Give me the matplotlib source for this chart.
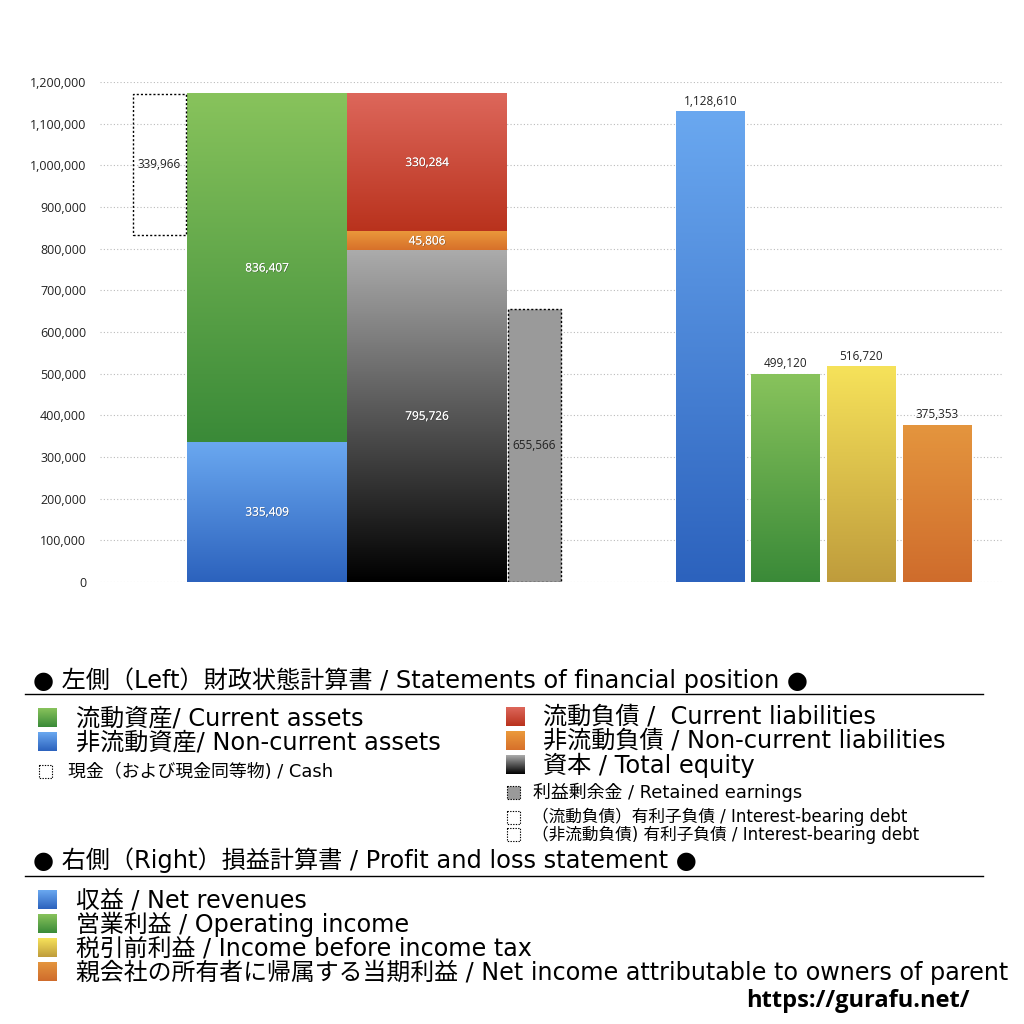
import matplotlib.pyplot as plt
import matplotlib.patheffects as pe
import numpy as np
from matplotlib.colors import LinearSegmentedColormap
from matplotlib.patches import Rectangle

plt.rcParams['font.family'] = ['Open Sans', 'Noto Sans CJK JP', 'DejaVu Sans']
LEG_FONT = ['DejaVu Sans', 'Noto Sans CJK JP']

# Balance sheet (left)
cash = 339966
current_assets = 836407
noncurrent_assets = 335409
current_liab = 330284
noncurrent_liab = 45806
equity = 795726
retained = 655566

# Profit and loss (right)
pl_values = [1128610, 499120, 516720, 375353]

yticks = list(range(0, 1200001, 100000))

# gradient colours (top, bottom)
grad = {
    "green": ("#88c35c", "#3a8a38"),
    "blue": ("#6aa8f0", "#2c62bd"),
    "red": ("#dd675b", "#b9321d"),
    "orange": ("#eb9a3c", "#d7702a"),
    "equity": ("#ababab", "#000000"),
    "yellow": ("#f6e25a", "#bf9c3c"),
    "orange2": ("#e4953e", "#cf6c2c"),
}
pl_colors = ["blue", "green", "yellow", "orange2"]

fig = plt.figure(figsize=(10.24, 10.24), dpi=100)
ax = fig.add_axes([100 / 1024, (1024 - 582) / 1024, 903 / 1024, 500 / 1024])


def grad_fill(a, x0, x1, y0, y1, key, z=2):
    cmap = LinearSegmentedColormap.from_list(key, [grad[key][1], grad[key][0]])
    g = np.linspace(0, 1, 256).reshape(-1, 1)
    a.imshow(g, extent=[x0, x1, y0, y1], origin="lower", aspect="auto",
             cmap=cmap, zorder=z, interpolation="bilinear")


shadow = [pe.withSimplePatchShadow(offset=(0.5, -0.5), shadow_rgbFace="#333333", alpha=0.5), pe.Normal()]


def seg_label(x, y, v, color="white"):
    ax.text(x, y, f"{v:,}", ha="center", va="center", fontsize=8.5, color=color,
            path_effects=shadow if color == "white" else None, zorder=5)


ax.set_xlim(100, 1003)
ax.set_ylim(0, 1200000)

total_assets = current_assets + noncurrent_assets

# assets stack
ax_x0, ax_x1 = 187, 347
grad_fill(ax, ax_x0, ax_x1, 0, noncurrent_assets, "blue")
grad_fill(ax, ax_x0, ax_x1, noncurrent_assets, total_assets, "green")
seg_label((ax_x0 + ax_x1) / 2, noncurrent_assets / 2, noncurrent_assets)
seg_label((ax_x0 + ax_x1) / 2, noncurrent_assets + current_assets / 2, current_assets)

# cash (dotted)
ax.add_patch(Rectangle((133, total_assets - cash), 53, cash, fill=False, ls=(0, (1.5, 1.5)), lw=1, ec="black", zorder=4))
seg_label(159.5, total_assets - cash / 2, cash, color="#222222")

# liabilities + equity stack
lx0, lx1 = 347, 507
grad_fill(ax, lx0, lx1, 0, equity, "equity")
grad_fill(ax, lx0, lx1, equity, equity + noncurrent_liab, "orange")
grad_fill(ax, lx0, lx1, equity + noncurrent_liab, equity + noncurrent_liab + current_liab, "red")
seg_label((lx0 + lx1) / 2, equity / 2, equity)
seg_label((lx0 + lx1) / 2, equity + noncurrent_liab / 2, noncurrent_liab)
seg_label((lx0 + lx1) / 2, equity + noncurrent_liab + current_liab / 2, current_liab)

# retained earnings
ax.bar(508, retained, width=53, align="edge", color="#9a9a9a", ec="black", ls=(0, (1.5, 1.5)), lw=1, zorder=3)
seg_label(534.5, retained / 2, retained, color="#222222")

# P&L bars
pl_x = [676, 751, 827, 903]
for x, v, c in zip(pl_x, pl_values, pl_colors):
    grad_fill(ax, x, x + 69, 0, v, c)
    ax.text(x + 34.5, v + 10000, f"{v:,}", ha="center", va="bottom", fontsize=8.5, color="#222222", zorder=5)

ax.set_xlim(100, 1003)
ax.set_ylim(0, 1200000)
ax.set_yticks(yticks)
ax.set_yticklabels([f"{t:,}" for t in yticks], fontsize=9, color="#222222")
ax.set_xticks([])
ax.tick_params(axis="y", length=0, pad=10)
for s in ax.spines.values():
    s.set_visible(False)
ax.grid(axis="y", color="#bbbbbb", ls=(0, (1, 2)), lw=0.8, zorder=0)
ax.set_axisbelow(True)

# legend area in pixel coordinates
lax = fig.add_axes([0, 0, 1, 1])
lax.set_xlim(0, 1024)
lax.set_ylim(1024, 0)
lax.axis("off")


def leg_grad(x, y, key, s=19):
    cmap = LinearSegmentedColormap.from_list(key, [grad[key][1], grad[key][0]])
    g = np.linspace(0, 1, 64).reshape(-1, 1)
    lax.imshow(g, extent=[x, x + s, y + s, y], origin="lower", aspect="auto", cmap=cmap)


def leg_dot(x, y, fc="none", s=13):
    lax.add_patch(Rectangle((x, y), s, s, fc=fc, ec="black", lw=0.8, ls=(0, (1.2, 1.2))))


def leg_text(x, y, s, size):
    lax.text(x, y, s, fontsize=size, va="center", family=LEG_FONT)


big = 17.4
small = 12.9

leg_text(33, 680, "● 左側（Left）財政状態計算書 / Statements of financial position ●", big)
lax.plot([25, 983], [694, 694], color="black", lw=1)

leg_grad(38, 708, "green")
leg_text(76, 718, "流動資産/ Current assets", big)
leg_grad(38, 732, "blue")
leg_text(76, 742, "非流動資産/ Non-current assets", big)
leg_dot(39, 765)
leg_text(68, 772, "現金（および現金同等物) / Cash", small)

leg_grad(506, 707, "red")
leg_text(543, 717, "流動負債 /  Current liabilities", big)
leg_grad(506, 731, "orange")
leg_text(543, 741, "非流動負債 / Non-current liabilities", big)
leg_grad(506, 755, "equity")
leg_text(543, 765, "資本 / Total equity", big)
leg_dot(507, 786, fc="#9a9a9a")
leg_text(533, 792, "利益剰余金 / Retained earnings", small)
leg_dot(507, 811)
leg_text(532, 817, "（流動負債）有利子負債 / Interest-bearing debt", 12)
leg_dot(507, 828)
leg_text(532, 835, "（非流動負債) 有利子負債 / Interest-bearing debt", 12)

leg_text(33, 860, "● 右側（Right）損益計算書 / Profit and loss statement ●", big)
lax.plot([25, 983], [876, 876], color="black", lw=1)

pl_labels = [
    "収益 / Net revenues",
    "営業利益 / Operating income",
    "税引前利益 / Income before income tax",
    "親会社の所有者に帰属する当期利益 / Net income attributable to owners of parent",
]
for i, (lab, c) in enumerate(zip(pl_labels, pl_colors)):
    y = 900 + 24 * i
    leg_grad(38, y - 10, c)
    leg_text(76, y, lab, 17.2)

lax.text(970, 1001, "https://gurafu.net/", fontsize=17, fontweight="bold", ha="right", va="center")

fig.savefig("out.png", dpi=100)
